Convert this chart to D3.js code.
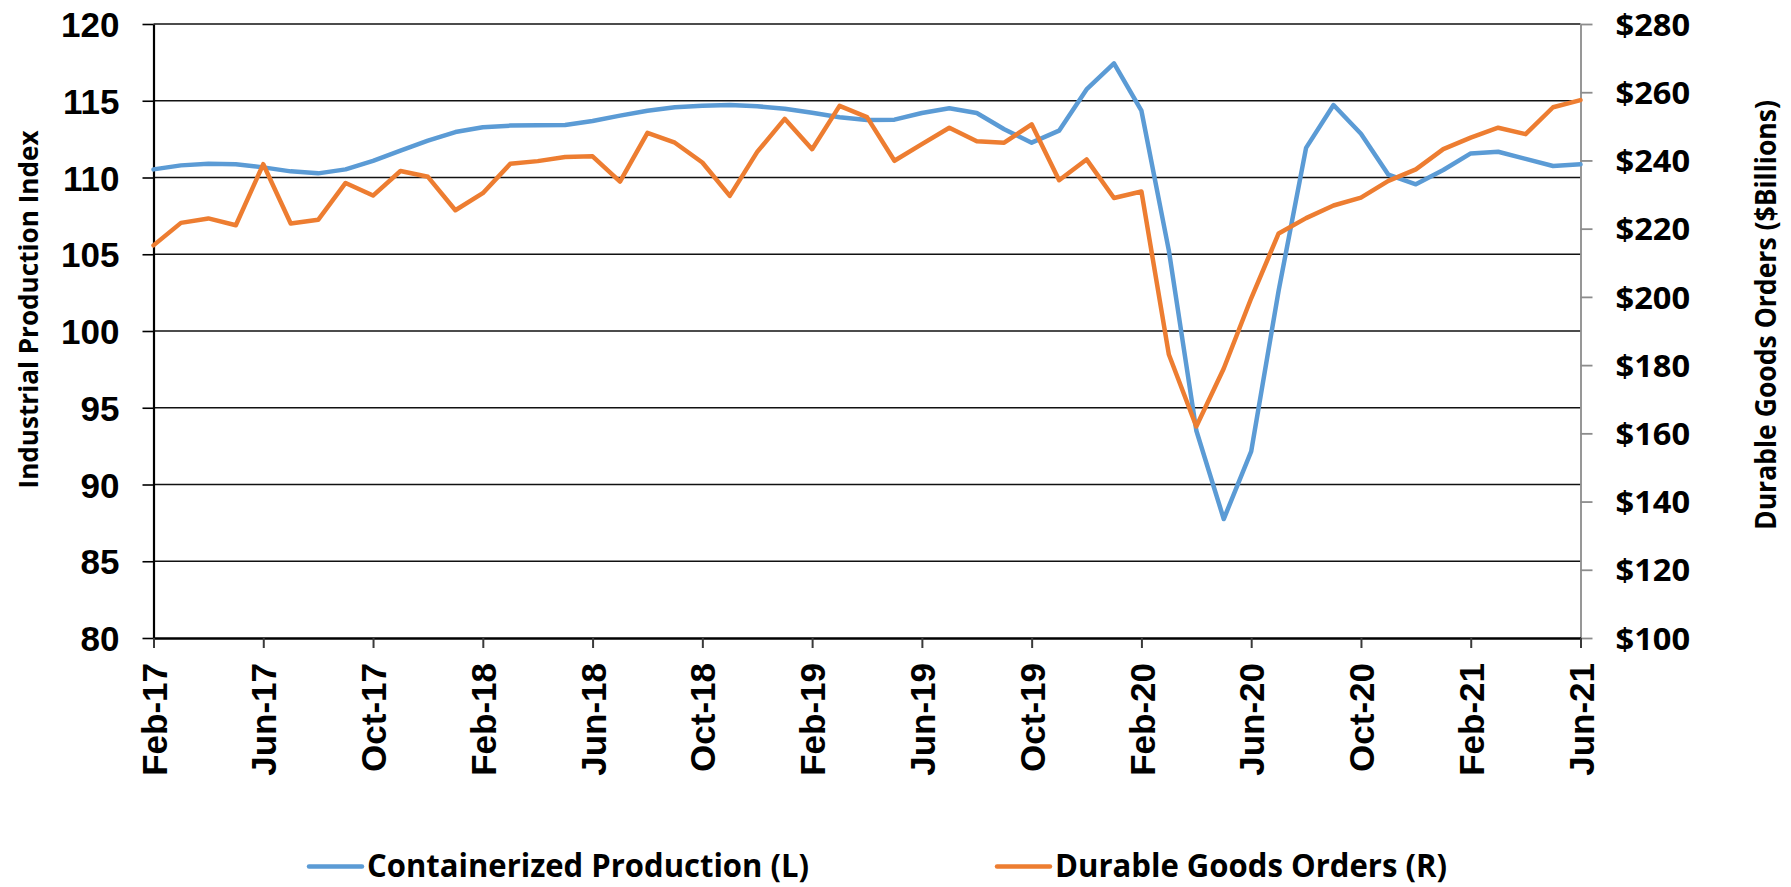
<!DOCTYPE html>
<html>
<head>
<meta charset="utf-8">
<script src="https://cdn.jsdelivr.net/npm/d3@7"></script>
<style>
  body { margin: 0; background: #fff; }
  svg { display: block; }
</style>
</head>
<body>
<svg id="chart" width="1791" height="887"></svg>
<script>
// month categories Feb-17 .. Jun-21
var months = d3.timeMonth.range(new Date(2017, 1, 1), new Date(2021, 6, 1)).map(d3.timeFormat("%b-%y"));
var tickLabels = ["Feb-17", "Jun-17", "Oct-17", "Feb-18", "Jun-18", "Oct-18", "Feb-19",
                  "Jun-19", "Oct-19", "Feb-20", "Jun-20", "Oct-20", "Feb-21", "Jun-21"];
var leftTicks = [80, 85, 90, 95, 100, 105, 110, 115, 120];
var rightTicks = [100, 120, 140, 160, 180, 200, 220, 240, 260, 280];

// Containerized Production (L) - industrial production index
var containerized = [110.53, 110.79, 110.90, 110.86, 110.66, 110.40, 110.27, 110.53, 111.08, 111.75, 112.40, 112.96, 113.27,
  113.38, 113.40, 113.42, 113.68, 114.03, 114.35, 114.57, 114.68, 114.72, 114.64, 114.48, 114.22, 113.92, 113.75,
  113.77, 114.20, 114.51, 114.20, 113.14, 112.27, 113.05, 115.74, 117.44, 114.35,
  105.24, 93.52, 87.75, 92.16, 102.63, 111.93, 114.72, 112.85, 110.18, 109.56,
  110.49, 111.57, 111.68, 111.21, 110.75, 110.86];

// Durable Goods Orders (R) - $ billions
var durable = [215.1, 221.7, 223.0, 221.0, 238.9, 221.5, 222.6, 233.4, 229.7, 236.9, 235.2, 225.4, 230.4, 239.0,
  239.8, 241.0, 241.2, 233.8, 248.1, 245.2, 239.4, 229.6, 242.5, 252.2, 243.3, 256.0, 252.7,
  239.9, 244.8, 249.6, 245.6, 245.2, 250.6, 234.2, 240.3, 229.0, 230.9,
  183.1, 162.0, 179.0, 199.6, 218.6, 223.1, 226.8, 229.1, 234.0, 237.4,
  243.3, 246.7, 249.6, 247.7, 255.6, 257.7];

var arialBold = "'Liberation Sans', Arial, sans-serif";
var calibriLike = "'Open Sans', 'Noto Sans', sans-serif";

var plot = { left: 153.5, right: 1580.5, top: 24, bottom: 638 };

var svg = d3.select("#chart");

var x = d3.scalePoint().domain(months).range([plot.left, plot.right]);
var yL = d3.scaleLinear().domain([80, 120]).range([plot.bottom, plot.top]);
var yR = d3.scaleLinear().domain([100, 280]).range([plot.bottom, plot.top]);

// horizontal gridlines
svg.append("g")
  .selectAll("line")
  .data(leftTicks.filter(function(d) { return d > 80; }))
  .join("line")
  .attr("x1", plot.left)
  .attr("x2", plot.right)
  .attr("y1", function(d) { return yL(d); })
  .attr("y2", function(d) { return yL(d); })
  .attr("stroke", "#111")
  .attr("stroke-width", 1.6);

// right axis (grey)
var rightAxis = svg.append("g")
  .attr("transform", "translate(" + plot.right + ",0)")
  .call(d3.axisRight(yR).tickValues(rightTicks).tickSize(12).tickSizeOuter(0).tickPadding(23)
    .tickFormat(function(d) { return "$" + d; }));
rightAxis.select(".domain").attr("stroke", "#8c8c8c").attr("stroke-width", 1.8);
rightAxis.selectAll(".tick line").attr("stroke", "#8c8c8c").attr("stroke-width", 1.8);
rightAxis.selectAll("text")
  .attr("fill", "#000")
  .attr("dy", "0.36em")
  .attr("textLength", 74.6)
  .attr("lengthAdjust", "spacingAndGlyphs")
  .style("font-family", calibriLike)
  .style("font-weight", "bold")
  .style("font-size", "31px");

// left axis
var leftAxis = svg.append("g")
  .attr("transform", "translate(" + plot.left + ",0)")
  .call(d3.axisLeft(yL).tickValues(leftTicks).tickSize(11).tickSizeOuter(0).tickPadding(23));
leftAxis.select(".domain").attr("stroke", "#000").attr("stroke-width", 2.2);
leftAxis.selectAll(".tick line").attr("stroke", "#000").attr("stroke-width", 1.6);
leftAxis.selectAll("text")
  .attr("fill", "#000")
  .attr("dy", "0.36em")
  .style("font-family", arialBold)
  .style("font-weight", "bold")
  .style("font-size", "35px");

// bottom axis
var xAxis = svg.append("g")
  .attr("transform", "translate(0," + plot.bottom + ")")
  .call(d3.axisBottom(x).tickValues(tickLabels).tickSize(10).tickSizeOuter(0));
xAxis.select(".domain").attr("stroke", "#000").attr("stroke-width", 2.6);
xAxis.selectAll(".tick line").attr("stroke", "#3a3a3a").attr("stroke-width", 2);
xAxis.selectAll("text")
  .attr("fill", "#000")
  .attr("transform", "rotate(-90)")
  .attr("x", -25)
  .attr("y", 0)
  .attr("dy", "0.36em")
  .style("text-anchor", "end")
  .style("font-family", arialBold)
  .style("font-weight", "bold")
  .style("font-size", "35px");

// series
var lineL = d3.line()
  .x(function(d, i) { return x(months[i]); })
  .y(function(d) { return yL(d); });
var lineR = d3.line()
  .x(function(d, i) { return x(months[i]); })
  .y(function(d) { return yR(d); });

svg.append("path")
  .datum(containerized)
  .attr("d", lineL)
  .attr("fill", "none")
  .attr("stroke", "#5B9BD5")
  .attr("stroke-width", 4.5)
  .attr("stroke-linejoin", "round")
  .attr("stroke-linecap", "round");

svg.append("path")
  .datum(durable)
  .attr("d", lineR)
  .attr("fill", "none")
  .attr("stroke", "#ED7D31")
  .attr("stroke-width", 4.5)
  .attr("stroke-linejoin", "round")
  .attr("stroke-linecap", "round");

// axis titles
svg.append("text")
  .attr("transform", "translate(37.5,309.5) rotate(-90)")
  .attr("text-anchor", "middle")
  .attr("textLength", 358)
  .attr("lengthAdjust", "spacingAndGlyphs")
  .style("font-family", calibriLike)
  .style("font-weight", "bold")
  .style("font-size", "27px")
  .text("Industrial Production Index");

svg.append("text")
  .attr("transform", "translate(1776,315) rotate(-90)")
  .attr("text-anchor", "middle")
  .attr("textLength", 430)
  .attr("lengthAdjust", "spacingAndGlyphs")
  .style("font-family", calibriLike)
  .style("font-weight", "bold")
  .style("font-size", "28px")
  .text("Durable Goods Orders ($Billions)");

// legend
var legendItems = [
  { name: "Containerized Production (L)", color: "#5B9BD5", x: 309, width: 442 },
  { name: "Durable Goods Orders (R)", color: "#ED7D31", x: 997, width: 392 }
];

var legend = svg.append("g")
  .selectAll("g")
  .data(legendItems)
  .join("g")
  .attr("transform", function(d) { return "translate(" + d.x + ",0)"; });

legend.append("line")
  .attr("x1", 0)
  .attr("x2", 53)
  .attr("y1", 866.5)
  .attr("y2", 866.5)
  .attr("stroke", function(d) { return d.color; })
  .attr("stroke-width", 4.5)
  .attr("stroke-linecap", "round");

legend.append("text")
  .attr("x", 58)
  .attr("y", 877)
  .attr("textLength", function(d) { return d.width; })
  .attr("lengthAdjust", "spacingAndGlyphs")
  .style("font-family", calibriLike)
  .style("font-weight", "bold")
  .style("font-size", "33px")
  .text(function(d) { return d.name; });
</script>
</body>
</html>
